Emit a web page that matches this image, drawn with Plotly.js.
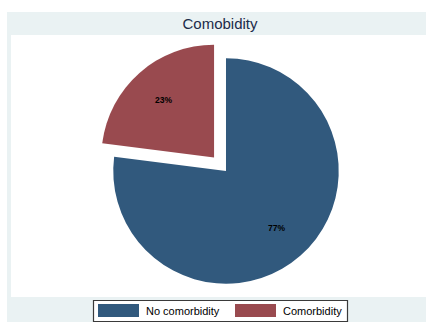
<!DOCTYPE html>
<html>
<head>
<meta charset="utf-8">
<script src="https://cdn.plot.ly/plotly-3.0.1.min.js"></script>
<style>html,body{margin:0;padding:0;background:#fff;}#chart{width:426px;height:322px;}</style>
</head>
<body>
<div id="chart"></div>
<script>
// Data
var labels = ["No comorbidity", "Comorbidity"];
var values = [77, 23];
var colors = ["#31597d", "#994a4f"];
var pulls = [0, 0.16];
var titleText = "Comobidity";

var W = 426, H = 322;
function px(x) { return x / W; }
function py(y) { return 1 - y / H; }

var domain = {x: [0.2235, 0.8375], y: [0.062, 0.876]};

var shapes = [
  // graph region (light blue-grey)
  {type: "rect", xref: "paper", yref: "paper", layer: "below",
   x0: px(7), x1: px(440), y0: py(340), y1: py(12),
   fillcolor: "#eaf2f3", line: {width: 0}},
  // plot region (white)
  {type: "rect", xref: "paper", yref: "paper", layer: "below",
   x0: px(11), x1: px(440), y0: py(297), y1: py(35),
   fillcolor: "#ffffff", line: {width: 0}},
  // legend box
  {type: "rect", xref: "paper", yref: "paper", layer: "above",
   x0: px(93.5), x1: px(347.5), y0: py(321.5), y1: py(300.5),
   fillcolor: "#ffffff", line: {width: 1.2, color: "#3a3a3a"}}
];
var annotations = [];
var legendX = [98, 235];
labels.forEach(function (lab, i) {
  var x = legendX[i];
  shapes.push({type: "rect", xref: "paper", yref: "paper", layer: "above",
    x0: px(x), x1: px(x + 41), y0: py(317), y1: py(304),
    fillcolor: colors[i], line: {width: 0}});
  annotations.push({xref: "paper", yref: "paper", x: px(x + 46), y: py(310.5),
    xanchor: "left", yanchor: "middle", showarrow: false, text: lab,
    font: {family: "Liberation Sans, Arial, sans-serif", size: 11, color: "#000"}});
});

// Percent labels placed at 2/3 of the radius along each slice's mid-angle (Stata style)
var total = values.reduce(function (a, b) { return a + b; }, 0);
var maxPull = Math.max.apply(null, pulls);
var boxW = W * (domain.x[1] - domain.x[0]);
var boxH = H * (domain.y[1] - domain.y[0]);
var R = Math.min(boxW, boxH) / (2 + 2 * maxPull);
var cx = W * (domain.x[0] + domain.x[1]) / 2;
var cy = H * (1 - (domain.y[0] + domain.y[1]) / 2);
var cum = 0;
values.forEach(function (v, i) {
  var ang = (cum + v / 2) / total * 2 * Math.PI;
  cum += v;
  var sx = Math.sin(ang), sy = -Math.cos(ang);
  var off = pulls[i] * R;
  var d = 0.675 * R;
  var lx = cx + sx * (off + d);
  var ly = cy + sy * (off + d);
  annotations.push({xref: "paper", yref: "paper", x: px(lx), y: py(ly),
    xanchor: "center", yanchor: "middle", showarrow: false,
    text: Math.round(v / total * 100) + "%",
    font: {family: "Liberation Sans, Arial, sans-serif", size: 8.5, color: "#000", weight: "bold"}});
});

var trace = {
  type: "pie",
  labels: labels,
  values: values,
  sort: false,
  direction: "clockwise",
  rotation: 0,
  pull: pulls,
  marker: {colors: colors, line: {width: 0}},
  textinfo: "none",
  domain: domain,
  showlegend: false,
  hoverinfo: "none"
};

var layout = {
  width: W, height: H,
  margin: {l: 0, r: 0, t: 0, b: 0},
  paper_bgcolor: "#ffffff",
  plot_bgcolor: "#ffffff",
  showlegend: false,
  title: {text: titleText, x: px(220), xanchor: "center", y: py(24), yanchor: "middle",
          font: {family: "Liberation Sans, Arial, sans-serif", size: 15, color: "#1c2b4a"}},
  shapes: shapes,
  annotations: annotations
};

Plotly.newPlot("chart", [trace], layout, {displayModeBar: false, staticPlot: true});
</script>
</body>
</html>
